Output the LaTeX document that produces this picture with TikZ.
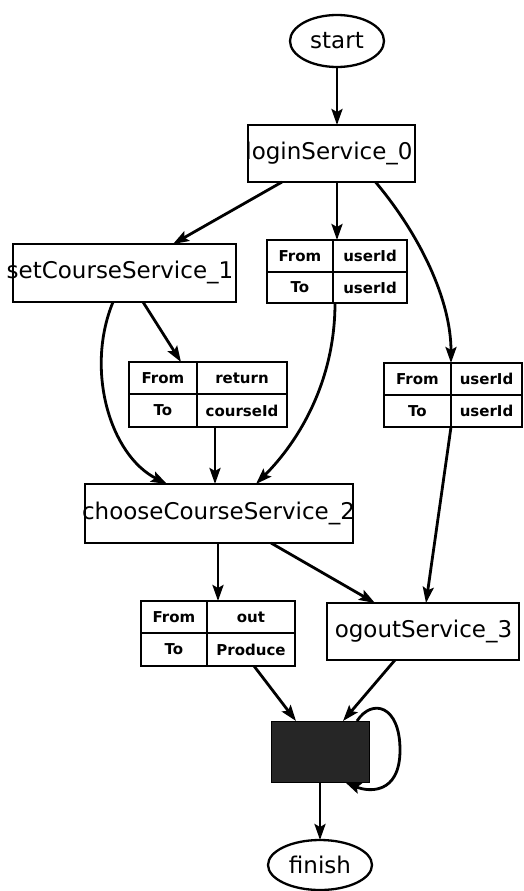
\documentclass[tikz,border=0pt]{standalone}
\usepackage{fontspec}
\setmainfont{DejaVu Sans}
\usetikzlibrary{arrows.meta,shapes.geometric}
\definecolor{darkfill}{HTML}{262626}
\tikzset{
  svcbox/.style={draw, line width=2pt, rectangle, inner sep=0pt, outer sep=0pt},
  svctext/.style={inner sep=0pt, font=\fontsize{23}{26}\selectfont},
  term/.style={draw, ellipse, line width=2.3pt, inner sep=0pt, outer sep=0pt, font=\fontsize{23}{26}\selectfont},
  tblbox/.style={draw, line width=1.8pt, rectangle, inner sep=0pt, outer sep=0pt},
  tblline/.style={line width=1.8pt},
  tbltext/.style={inner sep=0pt, font=\fontsize{15}{17}\selectfont\bfseries},
  conn/.style={line width=2.8pt, -{Stealth[length=16pt,width=11pt,inset=3pt]}},
  darkbox/.style={draw, line width=1pt, fill=darkfill, rectangle, inner sep=0pt, outer sep=0pt}
}
\newcommand\ctab[9]{%
  \node[tblbox, minimum width={(#4)-(#2)}, minimum height={(#5)-(#3)}] (#1) at ({((#2)+(#4))/2},{((#3)+(#5))/2}) {};
  \draw[tblline] (#6,#3) -- (#6,#5) (#2,#7) -- (#4,#7);
  \node[tbltext] at ({((#2)+(#6))/2},{((#3)+(#7))/2}) {From};
  \node[tbltext] at ({((#2)+(#6))/2},{((#7)+(#5))/2}) {To};
  \node[tbltext] at ({((#6)+(#4))/2},{((#3)+(#7))/2}) {#8};
  \node[tbltext] at ({((#6)+(#4))/2},{((#7)+(#5))/2}) {#9};
}
\begin{document}
\begin{tikzpicture}[x=1pt,y=-1pt]
\useasboundingbox (0,0) rectangle (523,891);
% terminals
\node[term, minimum width=94pt, minimum height=52pt] (start) at (337,41) {start};
\node[term, minimum width=104pt, minimum height=50pt] (finish) at (320,865) {finish};
% services
\node[svcbox, minimum width=167pt, minimum height=57pt] (login) at (331.5,153.5) {};
\node[svctext] (loginT) at (329,153) {loginService\_0};
\node[svcbox, minimum width=223pt, minimum height=58pt] (set) at (124.5,273) {};
\node[svctext] (setT) at (120,272) {setCourseService\_1};
\node[svcbox, minimum width=268pt, minimum height=59pt] (choose) at (219,513.5) {};
\node[svctext] (chooseT) at (218.5,513) {chooseCourseService\_2};
\node[svcbox, minimum width=192pt, minimum height=57pt] (logout) at (423,631.5) {};
\node[svctext] (logoutT) at (423.5,631) {ogoutService\_3};
\node[darkbox, minimum width=98pt, minimum height=61pt] (dark) at (320,751.5) {};
% tables
\ctab{t1}{267}{240}{407}{303}{333}{272}{userId}{userId}
\ctab{t2}{129}{362}{287}{427}{197}{394}{return}{courseId}
\ctab{t3}{384}{363}{522}{427}{451}{395}{userId}{userId}
\ctab{t4}{141}{601}{295}{666}{207}{633}{out}{Produce}
% connectors
\draw[conn] (start.south) -- (start.south |- login.north);
\draw[conn] ([xshift=-49.5pt]login.south) -- ([xshift=48.5pt]set.north);
\draw[conn] (t1.north |- login.south) -- (t1.north);
\draw[conn] ([xshift=44pt]login.south) .. controls (420,235) and (451,300) .. ([xshift=-2pt]t3.north);
\draw[conn] ([xshift=18.5pt]set.south) -- ([xshift=-27pt]t2.north);
\draw[conn] ([xshift=-11.5pt]set.south) .. controls (85,370) and (110,455) .. ([xshift=-52pt]choose.north);
\draw[conn] ([xshift=7pt]t2.south) -- ([xshift=-4pt]choose.north);
\draw[conn] ([xshift=-2pt]t1.south) .. controls (335,380) and (300,440) .. ([xshift=37pt]choose.north);
\draw[conn] ([xshift=-2pt]t3.south) -- ([xshift=3pt]logout.north);
\draw[conn] ([xshift=-1pt]choose.south) -- (t4.north);
\draw[conn] ([xshift=52pt]choose.south) -- ([xshift=-48pt]logout.north);
\draw[conn] ([xshift=36pt]t4.south) -- ([xshift=-24pt]dark.north);
\draw[conn] ([xshift=-28pt]logout.south) -- ([xshift=23pt]dark.north);
\coordinate (loopR) at (400,750);
\draw[conn] ([xshift=37pt]dark.north) .. controls (372,698) and (400,705) .. (loopR) .. controls (400,795) and (368,792) .. ([xshift=25pt]dark.south);
\draw[conn] (dark.south) -- (finish.north);
\end{tikzpicture}
\end{document}
